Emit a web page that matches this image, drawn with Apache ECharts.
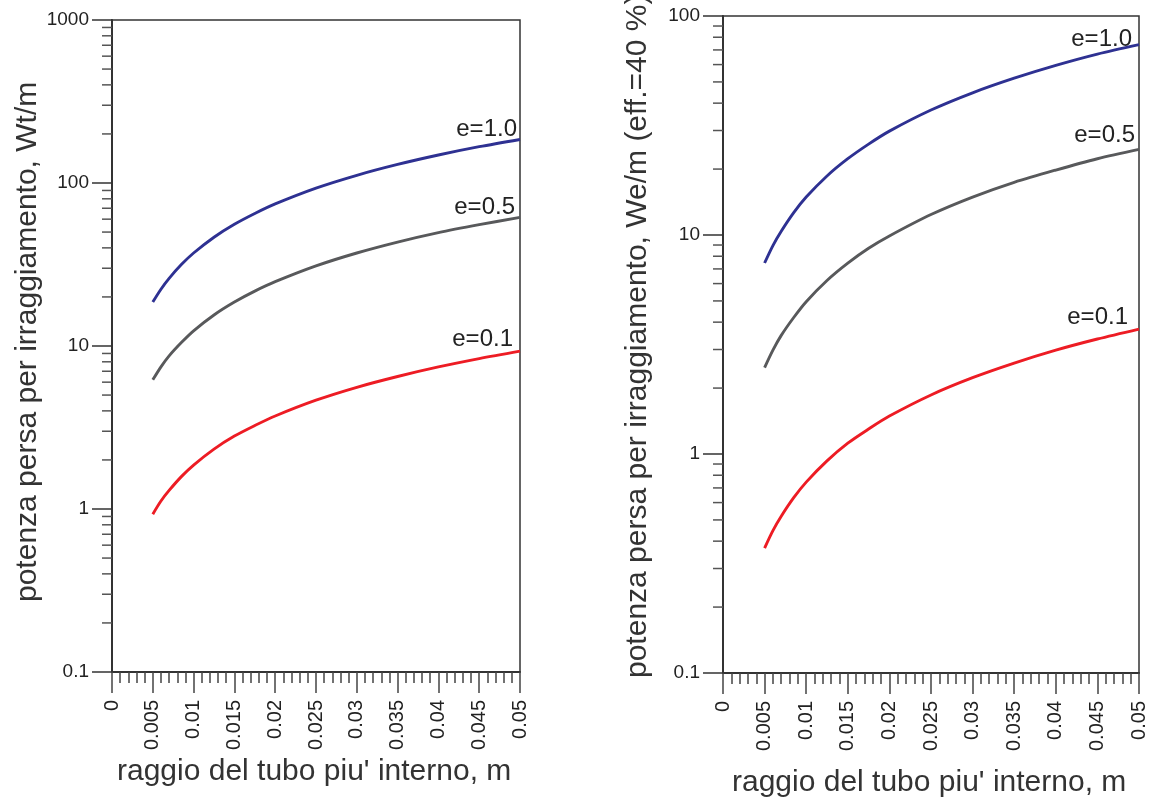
<!DOCTYPE html>
<html><head><meta charset="utf-8">
<script src="https://cdn.jsdelivr.net/npm/echarts@6/dist/echarts.min.js"></script>
<style>html,body{margin:0;padding:0;background:#fff}#c{width:1159px;height:797px}</style>
</head><body><div id="c"></div>
<script>
// tube inner radius (m)
const radius = [0.005,0.006,0.007,0.0085,0.01,0.0125,0.015,0.0175,0.02,0.025,0.03,0.035,0.04,0.045,0.05];
// left panel: thermal power lost by radiation, Wt/m
const leftE10 = [18.6,22.3,26,31.6,37.2,46.5,55.8,65,74.4,93,111.5,130,148.5,167,185];
const leftE05 = [6.2,7.45,8.7,10.5,12.4,15.5,18.6,21.7,24.8,31,37.2,43.4,49.6,55.5,61.5];
const leftE01 = [0.93,1.12,1.3,1.58,1.86,2.33,2.8,3.25,3.72,4.65,5.58,6.5,7.44,8.37,9.3];
// right panel: electric power lost, We/m (eff. 40 %)
const rightE10 = [7.45,8.95,10.4,12.65,14.9,18.6,22.3,26,29.8,37.2,44.6,52,59.5,67,74];
const rightE05 = [2.48,2.98,3.48,4.2,4.96,6.2,7.44,8.7,9.9,12.4,14.9,17.4,19.8,22.3,24.6];
const rightE01 = [0.372,0.447,0.52,0.632,0.744,0.93,1.12,1.3,1.49,1.86,2.23,2.6,2.98,3.35,3.72];
// axis ticks
const xTicks = [0,0.005,0.01,0.015,0.02,0.025,0.03,0.035,0.04,0.045,0.05];
const yDecadesLeft = [0.1,1,10,100,1000];
const yDecadesRight = [0.1,1,10,100];
const minorMultipliers = [2,3,4,5,6,7,8,9];
const seriesNames = ['e=1.0','e=0.5','e=0.1'];
const seriesColors = ['#2e3192','#58595b','#ed1c24'];
// label nudges (px) relative to each curve's end point: [dx, dy]
const labelNudgeLeft = [[-3,2],[-5,2],[-7,0]];
const labelNudgeRight = [[-7,7],[-4,-2],[-11,0]];

const minorOf = decades => {
  const out = [];
  decades.slice(0,-1).forEach(d => minorMultipliers.forEach(m => out.push(+(d*m).toPrecision(6))));
  return out;
};
const minorLeft = minorOf(yDecadesLeft);
const minorRight = minorOf(yDecadesRight);

const FONT = '"Liberation Sans", Arial, sans-serif';
const chart = echarts.init(document.getElementById('c'), null, {renderer:'canvas'});

function xAxisCfg(gi){
  return {
    type:'value', gridIndex:gi, min:xTicks[0], max:xTicks[xTicks.length-1], interval:0.005,
    axisLine:{show:true, onZero:false, lineStyle:{color:'#333', width:2}},
    axisTick:{show:true, length:21, lineStyle:{color:'#444', width:1.5}},
    minorTick:{show:true, splitNumber:5, length:11, lineStyle:{color:'#444', width:1.5}},
    splitLine:{show:false}, minorSplitLine:{show:false},
    axisLabel:{rotate:90, margin:28, fontSize:20, color:'#222', fontFamily:FONT,
      formatter: v => String(+(+v).toFixed(4))}
  };
}
function yAxisCfg(gi, decades){
  return {
    type:'log', logBase:10, gridIndex:gi, min:decades[0], max:decades[decades.length-1],
    axisLine:{show:true, lineStyle:{color:'#333', width:2}},
    axisTick:{show:true, length:20, lineStyle:{color:'#333', width:1.5}},
    splitLine:{show:false},
    axisLabel:{margin:23, fontSize:19, color:'#222', fontFamily:FONT,
      formatter: v => String(+(+v).toPrecision(6))}
  };
}
function lineSeries(gi, name, vals, color){
  return {
    type:'line', name, xAxisIndex:gi, yAxisIndex:gi, smooth:0.3, showSymbol:false, symbol:'none',
    lineStyle:{color, width:2.9}, itemStyle:{color},
    data: radius.map((r,i)=>[r, vals[i]])
  };
}
function minorTickSeries(gi, vals){
  return {
    type:'custom', xAxisIndex:gi, yAxisIndex:gi, silent:true, clip:false,
    data: vals.map(v=>[xTicks[0], v]),
    renderItem:(params, api) => {
      const p = api.coord([api.value(0), api.value(1)]);
      return {type:'line', shape:{x1:p[0]-10, y1:p[1], x2:p[0], y2:p[1]},
        style:{stroke:'#555', lineWidth:1.5}};
    }
  };
}

const leftVals = [leftE10, leftE05, leftE01];
const rightVals = [rightE10, rightE05, rightE01];

const option = {
  animation:false,
  backgroundColor:'#fff',
  grid:[
    {left:112, top:20, width:408, height:652, show:true, borderColor:'#333', borderWidth:1.5, backgroundColor:'transparent'},
    {left:723, top:16, width:416, height:657, show:true, borderColor:'#333', borderWidth:1.5, backgroundColor:'transparent'}
  ],
  xAxis:[xAxisCfg(0), xAxisCfg(1)],
  yAxis:[yAxisCfg(0, yDecadesLeft), yAxisCfg(1, yDecadesRight)],
  series:[
    ...leftVals.map((v,i)=>lineSeries(0, seriesNames[i], v, seriesColors[i])),
    ...rightVals.map((v,i)=>lineSeries(1, seriesNames[i], v, seriesColors[i])),
    minorTickSeries(0, minorLeft),
    minorTickSeries(1, minorRight)
  ],
  graphic:[
    {id:'yt0', type:'text', x:28, y:602, rotation:Math.PI/2,
      style:{text:'potenza persa per irraggiamento, Wt/m', font:'30px '+FONT, fill:'#333', align:'left', verticalAlign:'middle'}},
    {id:'yt1', type:'text', x:638, y:678, rotation:Math.PI/2,
      style:{text:'potenza persa per irraggiamento, We/m (eff.=40 %)', font:'30px '+FONT, fill:'#333', align:'left', verticalAlign:'middle'}},
    {id:'xt0', type:'text', x:117, y:772,
      style:{text:"raggio del tubo piu' interno, m", font:'30px '+FONT, fill:'#333', align:'left', verticalAlign:'middle'}},
    {id:'xt1', type:'text', x:732, y:783,
      style:{text:"raggio del tubo piu' interno, m", font:'30px '+FONT, fill:'#333', align:'left', verticalAlign:'middle'}}
  ]
};
chart.setOption(option);

// curve labels placed from the library's own scales, at the end of each curve
const labels = [];
[[0,leftVals,labelNudgeLeft],[1,rightVals,labelNudgeRight]].forEach(([gi, vals, nudge]) => {
  vals.forEach((v,i) => {
    const last = radius.length-1;
    const p = chart.convertToPixel({gridIndex:gi}, [radius[last], v[last]]);
    labels.push({id:'lab'+gi+'_'+i, type:'text', x:p[0]+nudge[i][0], y:p[1]+nudge[i][1],
      style:{text:seriesNames[i], font:'24px '+FONT, fill:'#222', align:'right', verticalAlign:'bottom'}});
  });
});
chart.setOption({graphic:labels});
</script></body></html>
